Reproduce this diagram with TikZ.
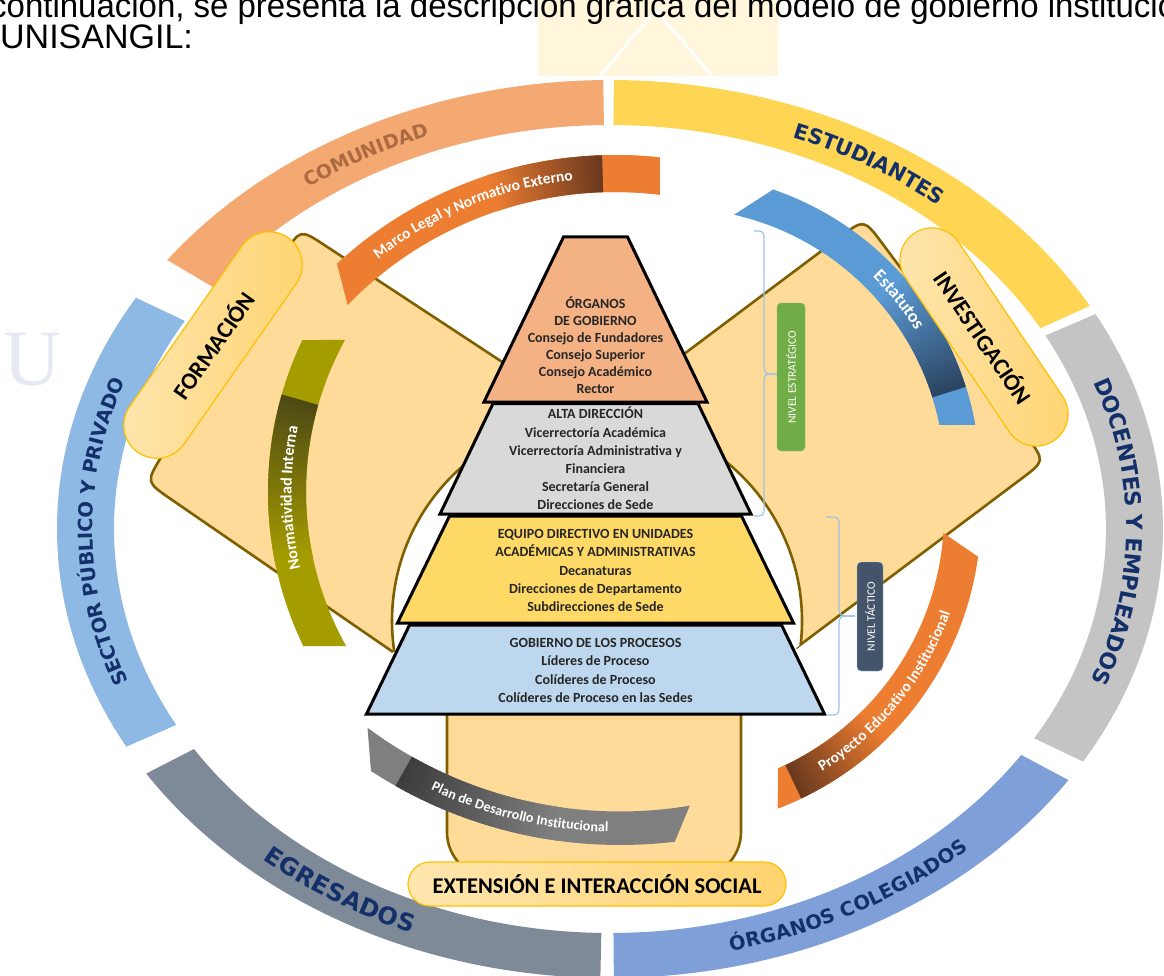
\documentclass[tikz,border=0pt]{standalone}
\usepackage{fontspec}
\setmainfont{Carlito}
\newfontfamily\ringfont{DejaVu Sans}
\newfontfamily\arialfont{Liberation Sans}
\newfontfamily\wmfont{Liberation Serif}
\usetikzlibrary{calc,decorations.text}
\definecolor{comC}{HTML}{F4A973}
\definecolor{estC}{HTML}{FFD653}
\definecolor{docC}{HTML}{C4C4C4}
\definecolor{orgC}{HTML}{7F9FD8}
\definecolor{egrC}{HTML}{7F8A99}
\definecolor{secC}{HTML}{8DB9E4}
\definecolor{navyT}{HTML}{13306A}
\definecolor{comT}{HTML}{AE6A40}
\definecolor{armF}{HTML}{FEDB99}
\definecolor{armD}{HTML}{7F6000}
\definecolor{pillL}{HTML}{FFE6B0}
\definecolor{pillD}{HTML}{FFD470}
\definecolor{pillB}{HTML}{FFC000}
\definecolor{ribO}{HTML}{ED7D31}
\definecolor{ribBr}{HTML}{6B3A1E}
\definecolor{ribB}{HTML}{5B9BD5}
\definecolor{ribN}{HTML}{2B4562}
\definecolor{ribOl}{HTML}{A59C00}
\definecolor{ribOd}{HTML}{4E4A14}
\definecolor{ribG}{HTML}{7F7F7F}
\definecolor{ribGd}{HTML}{3D3D3D}
\definecolor{pyA}{HTML}{F4B183}
\definecolor{pyB}{HTML}{D9D9D9}
\definecolor{pyC}{HTML}{FFD966}
\definecolor{pyD}{HTML}{BDD7EE}
\definecolor{pyT}{HTML}{262626}
\definecolor{brk}{HTML}{9DC3E6}
\definecolor{nivE}{HTML}{70AD47}
\definecolor{nivT}{HTML}{44546A}
\definecolor{wmY}{HTML}{FFF6DC}
\definecolor{wmB}{HTML}{E6E9F2}

% ring segment between visual angles #1 and #2
\newcommand\ringseg[3]{%
  \fill[#3] ({610+553*cos(#1)},{529-449*sin(#1)})
    arc[start angle={-(#1)}, end angle={-(#2)}, x radius=553, y radius=449]
    -- ({610+496*cos(#2)},{529-404*sin(#2)})
    arc[start angle={-(#2)}, end angle={-(#1)}, x radius=496, y radius=404] -- cycle;}
% annular sector: cx cy rin rout a b colour
\newcommand\annseg[7]{%
  \fill[#7] ({#1+#4*cos(#5)},{#2-#4*sin(#5)})
    arc[start angle={-(#5)}, end angle={-(#6)}, radius=#4]
    -- ({#1+#3*cos(#6)},{#2-#3*sin(#6)})
    arc[start angle={-(#6)}, end angle={-(#5)}, radius=#3] -- cycle;}
% ribbon with slanted ends: cx cy rin rout outA outB inB inA colour
\newcommand\ribbon[9]{%
  \fill[#9] ({#1+#4*cos(#5)},{#2-#4*sin(#5)})
    arc[start angle={-(#5)}, end angle={-(#6)}, radius=#4]
    -- ({#1+#3*cos(#7)},{#2-#3*sin(#7)})
    arc[start angle={-(#7)}, end angle={-(#8)}, radius=#3] -- cycle;}
% gradient along ribbon: cx cy rin rout a b colA colB
\newcommand\ribgrad[8]{%
  \foreach \k in {0,...,29}{%
    \pgfmathsetmacro\ga{#5+(#6-#5)*\k/30}%
    \pgfmathsetmacro\gb{#5+(#6-#5)*(\k+1.2)/30}%
    \pgfmathtruncatemacro\gp{100-100*\k/29}%
    \annseg{#1}{#2}{#3}{#4}{\ga}{\gb}{#7!\gp!#8}}}
% text on ring: start end size raise colour text
\newcommand\ringtext[6]{%
  \path[decorate, decoration={text along path, text align=center, raise=#4,
     text={|\ringfont\bfseries\fontsize{#3}{#3}\selectfont\color{#5}|#6}}]
   ({610+524.5*cos(#1)},{529-426.5*sin(#1)})
   arc[start angle={-(#1)}, end angle={-(#2)}, x radius=524.5, y radius=426.5];}
% text on ribbon: cx cy r start end size raise text
\newcommand\ribtext[8]{%
  \path[decorate, decoration={text along path, text align=center, raise=#7,
     text={|\color{white}\bfseries\fontsize{#6}{#6}\selectfont|#8}}]
   ({#1+#3*cos(#4)},{#2-#3*sin(#4)}) arc[start angle={-(#4)}, end angle={-(#5)}, radius=#3];}
\newcommand\pyrlayer[5]{%
  \draw[pyrline, fill=#5] ({595.5-#2},#1) -- ({595.5+#2},#1) -- ({595.5+#4},#3) -- ({595.5-#4},#3) -- cycle;}

\begin{document}
\begin{tikzpicture}[x=1pt,y=-1pt,
  armline/.style={draw=armD, line width=2.6, line join=round},
  pill/.style={draw=pillB, line width=1.2, left color=pillL, right color=pillD, rounded corners=#1, inner sep=0pt, text=black},
  pytext/.style={align=center, text=pyT, inner sep=0pt},
  pyrline/.style={draw=black, line width=3, line join=miter}]
\useasboundingbox (0,0) rectangle (1164,976);
\fill[white] (0,0) rectangle (1164,976);
\begin{scope}
\clip (0,0) rectangle (1164,976);
% faint watermark
\fill[wmY] (538,0) rectangle (778,76);
\draw[white, line width=3] (600,76) -- (656,10) -- (712,76);
\node[font=\wmfont\fontsize{80}{80}\selectfont, text=wmB] (wmU) at (32,360) {U};
% header text
\node[anchor=base west, inner sep=0pt, xscale=0.97, font=\arialfont\fontsize{34}{34}\selectfont] (hdr1) at (-10,18) {continuación, se presenta la descripción gráfica del modelo de gobierno institucional};
\node[anchor=base west, inner sep=0pt, font=\arialfont\fontsize{34}{34}\selectfont] (hdr2) at (0,49) {UNISANGIL:};

% outer ring
\ringseg{90.7}{143.2}{comC}
\ringseg{29.8}{89.6}{estC}
\ringseg{-31.2}{28.6}{docC}
\ringseg{-89.6}{-34}{orgC}
\ringseg{213}{269}{egrC}
\ringseg{149}{209}{secC}
\ringtext{140}{97}{19}{-6.8pt}{comT}{COMUNIDAD}
\ringtext{88}{30}{21}{-7.6pt}{navyT}{ESTUDIANTES}
\ringtext{27.6}{-28.4}{22}{-8pt}{navyT}{DOCENTES Y EMPLEADOS}
\ringtext{-89}{-34}{19.5}{-7pt}{navyT}{ÓRGANOS COLEGIADOS}
\ringtext{214}{262}{24}{-8.6pt}{navyT}{EGRESADOS}
\ringtext{208.4}{152.4}{19.5}{-7pt}{navyT}{SECTOR PÚBLICO Y PRIVADO}

% bottom stem
\draw[armline, fill=armF, rounded corners=46] (447,600) rectangle (741,878);
% left arm
\coordinate (P1) at (300,229);
\coordinate (P2) at (146,482);
\coordinate (P3) at (393,652);
\coordinate (P4) at (597,621);
\coordinate (P5) at (560,400);
\def\leftarmfill{(P5) -- ($(P1)!30pt!(P5)$) .. controls (P1) .. ($(P1)!30pt!(P2)$) -- ($(P2)!30pt!(P1)$) .. controls (P2) .. ($(P2)!30pt!(P3)$) -- (P3) -- (P4) -- cycle}
\def\leftarmline{(P5) -- ($(P1)!30pt!(P5)$) .. controls (P1) .. ($(P1)!30pt!(P2)$) -- ($(P2)!30pt!(P1)$) .. controls (P2) .. ($(P2)!30pt!(P3)$) -- (P3)}
% right arm
\coordinate (Q1) at (864,219);
\coordinate (Q2) at (1045,461);
\coordinate (Q3) at (796,648);
\coordinate (Q4) at (597,621);
\coordinate (Q5) at (640,387);
\def\rightarmfill{(Q5) -- ($(Q1)!30pt!(Q5)$) .. controls (Q1) .. ($(Q1)!30pt!(Q2)$) -- ($(Q2)!30pt!(Q1)$) .. controls (Q2) .. ($(Q2)!30pt!(Q3)$) -- (Q3) -- (Q4) -- cycle}
\def\rightarmline{(Q5) -- ($(Q1)!30pt!(Q5)$) .. controls (Q1) .. ($(Q1)!30pt!(Q2)$) -- ($(Q2)!30pt!(Q1)$) .. controls (Q2) .. ($(Q2)!30pt!(Q3)$) -- (Q3)}
\fill[armF] \leftarmfill;
\draw[armline] \leftarmline;
\fill[armF] \rightarmfill;
\draw[armline] \rightarmline;
\begin{scope}
  \clip \leftarmfill;
  \draw[armline, fill=white] (597,621) circle[radius=205];
\end{scope}
\begin{scope}
  \clip \rightarmfill;
  \draw[armline, fill=white] (597,621) circle[radius=205];
\end{scope}

% ribbon: Marco Legal y Normativo Externo
\ribbon{615}{565}{373}{410}{132.7}{83.7}{83.1}{135.8}{ribO}
\ribgrad{615}{565}{373}{410}{108.6}{91.8}{ribO}{ribBr}
\ribbon{615}{565}{373}{410}{91.8}{83.7}{83.1}{91.8}{ribO}
\ribtext{615}{565}{391.5}{131}{93}{15.5}{-4.6pt}{Marco Legal y Normativo Externo}
% ribbon: Estatutos
\ribbon{674}{479}{271}{306}{71.1}{10.2}{11.5}{77.2}{ribB}
\ribgrad{674}{479}{271}{306}{42}{17.5}{ribB}{ribN}
\ribbon{674}{479}{271}{306}{17.5}{10.2}{11.5}{17.5}{ribB}
\ribtext{674}{479}{288.5}{55}{22}{18}{-5.2pt}{Estatutos}
% ribbon: Normatividad Interna
\ribbon{622}{492}{316}{354}{154.6}{205.8}{209.2}{151.2}{ribOl}
\ribgrad{622}{492}{316}{354}{164}{192}{ribOd}{ribOl}
\ribtext{622}{492}{335}{206}{156}{16}{-4.6pt}{Normatividad Interna}
% ribbon: Proyecto Educativo Institucional
\ribbon{666}{514}{278}{315}{-7.8}{-69.2}{-66.2}{-3.9}{ribO}
\ribgrad{666}{514}{278}{315}{-45}{-64.6}{ribO}{ribBr}
\ribbon{666}{514}{278}{315}{-64.6}{-69.2}{-66.2}{-64.6}{ribO}
\ribtext{666}{514}{296.5}{-70}{-8}{15.3}{-4.5pt}{Proyecto Educativo Institucional}
% ribbon: Plan de Desarrollo Institucional
\ribbon{620}{389}{422.5}{456}{-123.1}{-83.1}{-80.5}{-126.7}{ribG}
\ribgrad{620}{389}{422.5}{456}{-119.5}{-98}{ribGd}{ribG}
\ribtext{620}{389}{439}{-124}{-82.8}{14}{-4.2pt}{Plan de Desarrollo Institucional}

% side pills
\node[pill=33, minimum width=262, minimum height=66, rotate=55,
      font=\bfseries\fontsize{23.5}{23.5}\selectfont] (form) at (213,345) {FORMACIÓN};
\node[pill=32, minimum width=250, minimum height=64, rotate=-56,
      font=\bfseries\fontsize{23.5}{23.5}\selectfont] (inv) at (984,337) {INVESTIGACIÓN};

% pyramid
\pyrlayer{625}{186}{714}{229}{pyD}
\pyrlayer{516}{146}{623}{198}{pyC}
\pyrlayer{403.5}{102.5}{514}{155.5}{pyB}
\pyrlayer{237}{32}{402}{111.5}{pyA}
\node[pytext, font=\bfseries\fontsize{14}{17}\selectfont] (g1) at (595.5,345.5)
  {ÓRGANOS\\DE GOBIERNO\\Consejo de Fundadores\\Consejo Superior\\Consejo Académico\\Rector};
\node[pytext, font=\bfseries\fontsize{14}{18.2}\selectfont] (g2) at (595.5,458.5)
  {ALTA DIRECCIÓN\\Vicerrectoría Académica\\Vicerrectoría Administrativa y\\Financiera\\Secretaría General\\Direcciones de Sede};
\node[pytext, font=\bfseries\fontsize{14}{18.2}\selectfont] (g3) at (595.5,570.5)
  {EQUIPO DIRECTIVO EN UNIDADES\\ACADÉMICAS Y ADMINISTRATIVAS\\Decanaturas\\Direcciones de Departamento\\Subdirecciones de Sede};
\node[pytext, font=\bfseries\fontsize{14}{18.2}\selectfont] (g4) at (595.5,670.5)
  {GOBIERNO DE LOS PROCESOS\\Líderes de Proceso\\Colíderes de Proceso\\Colíderes de Proceso en las Sedes};

% level brackets
\draw[brk, line width=1.2] (754,231) .. controls (764,231) .. (764,241) -- (764,364) .. controls (764,374) .. (777,374);
\draw[brk, line width=1.2] (777,374) .. controls (764,374) .. (764,384) -- (764,506) .. controls (764,516) .. (754,516);
\draw[brk, line width=1.2] (826,517) .. controls (839,517) .. (839,527) -- (839,606) .. controls (839,616) .. (855,616);
\draw[brk, line width=1.2] (855,616) .. controls (839,616) .. (839,626) -- (839,705) .. controls (839,715) .. (826,715);
\node[rotate=90, fill=nivE, draw=nivE!75!white, rounded corners=4, minimum width=148, minimum height=28,
      inner sep=0pt, text=white, font=\fontsize{11.5}{11.5}\selectfont] (ne) at (791,377) {NIVEL ESTRATÉGICO};
\node[rotate=90, fill=nivT, draw=brk, rounded corners=4, minimum width=109, minimum height=26,
      inner sep=0pt, text=white, font=\fontsize{11.5}{11.5}\selectfont] (nt) at (870,616.5) {NIVEL TÁCTICO};

% bottom pill
\node[pill=22, minimum width=378, minimum height=44,
      font=\bfseries\fontsize{22.5}{22.5}\selectfont] (ext) at (597,884) {EXTENSIÓN E INTERACCIÓN SOCIAL};
\end{scope}
\end{tikzpicture}
\end{document}
